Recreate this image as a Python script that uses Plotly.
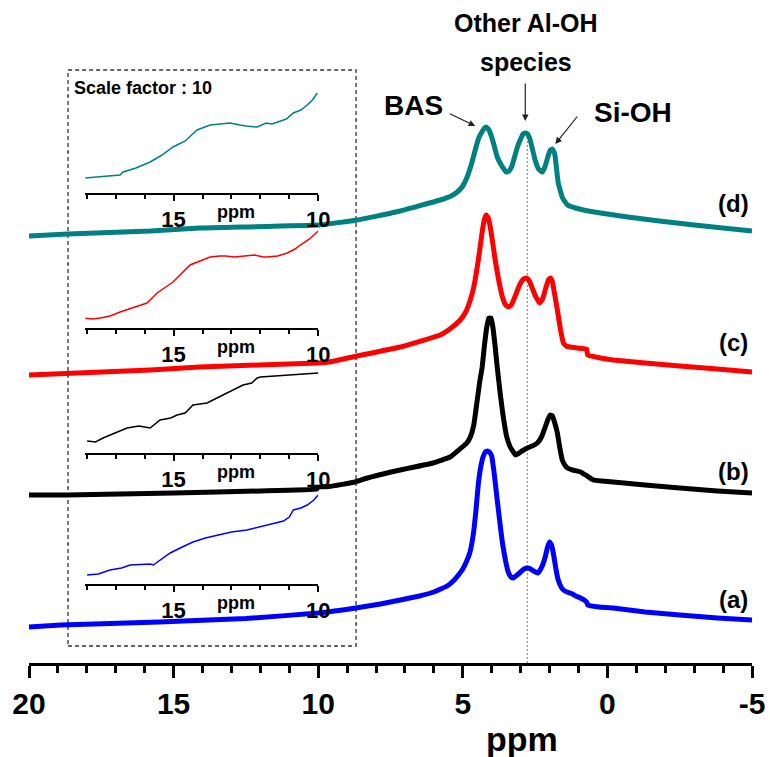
import plotly.graph_objects as go

# ---------------- data (ppm, intensity a.u.) ----------------
blue_ppm = [20.0, 18.9, 15.5, 12.5, 10.0, 8.7, 7.85, 7.16, 6.5, 6.0, 5.54, 5.33, 5.15, 5.0, 4.88, 4.76, 4.64,
            4.55, 4.46, 4.38, 4.3, 4.22, 4.15, 4.08, 4.0, 3.92, 3.81, 3.72, 3.63, 3.52, 3.43, 3.33, 3.25, 3.12,
            3.0, 2.88, 2.77, 2.65, 2.55, 2.4, 2.27, 2.15, 2.07, 2.0, 1.93, 1.87, 1.78, 1.7, 1.6, 1.52, 1.4,
            1.3, 1.2, 1.1, 0.93, 0.72, 0.68, 0.3, -0.2, -1.3, -2.5, -3.8, -5.0]
blue_int = [0, 2, 5, 8.5, 14, 19, 23, 27, 31, 35, 41, 46, 52, 58, 65, 74, 92,
            115, 144, 160, 170, 175, 176, 175, 171, 155, 127, 105, 84, 66, 55, 50, 49, 52,
            55, 58, 59, 58, 56, 54, 60, 70, 80, 85, 82, 74, 58, 47, 40, 37, 35,
            34, 33, 31, 29, 25, 22, 20, 19, 15, 12, 9, 7]

black_ppm = [20.0, 18.7, 15.0, 12.0, 10.05, 10.0, 9.62, 8.72, 8.3, 7.16, 6.03, 5.44, 5.1, 4.86, 4.74, 4.62,
             4.5, 4.42, 4.33, 4.25, 4.17, 4.1, 4.03, 3.96, 3.88, 3.81, 3.7, 3.6, 3.48, 3.36, 3.25, 3.18,
             3.05, 2.95, 2.77, 2.6, 2.42, 2.28, 2.15, 2.05, 1.98, 1.9, 1.82, 1.73, 1.65, 1.56, 1.45, 1.38,
             1.2, 0.93, 0.7, 0.48, 0.2, -0.2, -1.3, -2.5, -3.8, -5.0]
black_int = [0, 0, 2, 4, 6, 8, 8.5, 13, 17, 25, 32, 38, 46, 52, 58, 70,
             95, 112, 128, 150, 168, 177, 177, 168, 148, 128, 100, 78, 58, 48, 43, 40,
             42, 44, 47, 49, 52, 58, 68, 76, 80, 79, 72, 62, 48, 35, 29, 27,
             25, 23, 19, 15, 14, 13, 10, 7, 4, 2]

red_ppm = [20.0, 15.8, 14.1, 10.0, 9.62, 8.65, 7.16, 5.78, 5.4, 5.09, 4.9, 4.74, 4.62, 4.5, 4.4, 4.32,
           4.25, 4.19, 4.12, 4.05, 3.97, 3.88, 3.76, 3.63, 3.52, 3.43, 3.32, 3.2, 3.08, 3.0, 2.9, 2.8,
           2.7, 2.6, 2.47, 2.35, 2.24, 2.12, 2.04, 1.97, 1.9, 1.82, 1.73, 1.62, 1.52, 1.42, 1.3, 1.04,
           0.72, 0.68, 0.24, -0.2, -1.3, -2.5, -3.8, -5.0]
red_int = [0, 5, 8, 12, 13, 19, 28, 40, 47, 55, 63, 75, 88, 108, 128, 145,
           156, 160, 157, 148, 133, 115, 95, 78, 70, 68, 70, 78, 87, 92, 96, 97,
           94, 87, 78, 72, 76, 88, 95, 97, 93, 80, 65, 45, 32, 29, 28, 27,
           26, 20, 17, 15, 12, 9, 6, 3]

teal_ppm = [20.0, 18.65, 15.8, 14.1, 10.0, 8.65, 7.16, 5.78, 5.4, 5.19, 5.0, 4.85, 4.7, 4.57, 4.45, 4.32,
            4.25, 4.19, 4.12, 4.05, 3.93, 3.81, 3.65, 3.5, 3.4, 3.3, 3.2, 3.1, 3.0, 2.92, 2.84, 2.76,
            2.68, 2.6, 2.5, 2.38, 2.25, 2.15, 2.05, 1.97, 1.9, 1.82, 1.7, 1.55, 1.38, 1.1, 0.83, 0.24,
            -0.7, -1.8, -3.0, -5.0]
teal_int = [0, 2, 5, 8, 11, 16, 25, 36, 40, 44, 50, 59, 72, 86, 98, 105,
            108, 109, 107, 103, 92, 79, 70, 64, 65, 70, 80, 90, 97, 102, 103, 102,
            97, 88, 76, 67, 64, 70, 80, 86, 87, 82, 53, 38, 31, 28, 26, 23,
            19, 15, 11, 5]

# vertical stacking offsets of the four spectra
offsets = {"a": 36, "b": 168, "c": 288, "d": 427}

# insets (scale factor 10), 18-10 ppm
teal_inset_ppm = [18.06, 17.7, 17.5, 16.85, 16.75, 16.3, 15.81, 15.4, 15.02, 14.6, 14.19, 13.74, 13.4,
                  13.05, 12.7, 12.5, 12.11, 11.8, 11.6, 11.42, 11.1, 10.86, 10.6, 10.38, 10.2, 10.03]
teal_inset_int = [15, 16, 16, 18, 21, 25, 31, 38, 46, 52, 63, 68, 69, 70, 68, 67, 66, 70, 69, 71, 74,
                  80, 83, 88, 93, 100]

red_inset_ppm = [18.13, 17.8, 17.54, 17.2, 16.85, 16.4, 15.92, 15.57, 15.02, 14.43, 13.74, 13.4, 13.2,
                 12.9, 12.6, 12.2, 11.9, 11.76, 11.4, 11.07, 10.8, 10.62, 10.3, 10.0]
red_inset_int = [10, 9, 10, 12, 16, 20, 25, 35, 46, 63, 71, 72, 72, 71, 72, 73, 71, 71, 72, 75, 79,
                 83, 89, 97]

black_inset_ppm = [17.99, 17.7, 17.44, 17.0, 16.61, 16.2, 15.92, 15.81, 15.47, 15.1, 14.88, 14.6, 14.33,
                   13.84, 13.5, 13.15, 12.9, 12.6, 12.3, 12.11, 12.0, 11.0, 10.0]
black_inset_int = [12, 11, 15, 20, 25, 27, 26, 25, 33, 35, 38, 40, 48, 50, 55, 60, 63, 68, 70, 75, 76,
                   78, 80]

blue_inset_ppm = [17.99, 17.6, 17.2, 16.8, 16.5, 16.1, 15.81, 15.7, 15.4, 15.12, 14.7, 14.33, 13.9,
                  13.4, 13.0, 12.46, 11.9, 11.56, 11.2, 11.0, 10.86, 10.6, 10.38, 10.15, 10.0]
blue_inset_int = [9, 10, 14, 16, 19, 20, 20, 19, 25, 31, 37, 42, 46, 49, 52, 54, 58, 61, 63, 67, 74,
                  76, 79, 84, 89]

labels = ["(a)", "(b)", "(c)", "(d)"]
main_ticks = [20, 15, 10, 5, 0, -5]
inset_ticks = [15, 10]

# ---------------- layout constants ----------------
W, H = 770, 757
ML, MR, MT, MB = 29, 18, 0, 94
PH = H - MT - MB  # plot height in px (y units = px above axis)
FONT = "Liberation Sans, Arial, sans-serif"
teal = "#008080"
colors = {"a": "#0000FF", "b": "#000000", "c": "#FF0000", "d": teal}

main = {"a": (blue_ppm, blue_int), "b": (black_ppm, black_int),
        "c": (red_ppm, red_int), "d": (teal_ppm, teal_int)}
insets = {"a": (blue_inset_ppm, blue_inset_int), "b": (black_inset_ppm, black_inset_int),
          "c": (red_inset_ppm, red_inset_int), "d": (teal_inset_ppm, teal_inset_int)}
inset_axis_px = {"d": 193, "c": 328, "b": 453, "a": 584}  # inset baseline (px from top)
INSET_H = 110

fig = go.Figure()

for k in ["a", "b", "c", "d"]:
    xs, ys = main[k]
    fig.add_trace(go.Scatter(x=xs, y=[v + offsets[k] for v in ys], mode="lines",
                             line=dict(color=colors[k], width=5, shape="spline", smoothing=0.3),
                             xaxis="x", yaxis="y", hoverinfo="skip"))

layout_axes = {}
for i, k in enumerate(["d", "c", "b", "a"]):
    n = i + 2
    xs, ys = insets[k]
    fig.add_trace(go.Scatter(x=xs, y=ys, mode="lines",
                             line=dict(color=colors[k], width=1.5),
                             xaxis=f"x{n}", yaxis=f"y{n}", hoverinfo="skip"))
    bottom = (H - MB - inset_axis_px[k]) / PH
    layout_axes[f"xaxis{n}"] = dict(
        domain=[(20 - 18.05) / 25, (20 - 10) / 25], range=[18.05, 10], anchor=f"y{n}",
        showline=True, linewidth=2, linecolor="black", showgrid=False, zeroline=False,
        ticks="outside", ticklen=6, tickwidth=2, tickcolor="black",
        tickmode="array", tickvals=inset_ticks,
        tickfont=dict(family=FONT, size=22, color="black", weight="bold"),
        minor=dict(ticks="outside", ticklen=4, tickwidth=2, tickcolor="black",
                   tickmode="linear", tick0=0, dtick=1),
        fixedrange=True)
    layout_axes[f"yaxis{n}"] = dict(domain=[bottom, bottom + INSET_H / PH], range=[0, INSET_H],
                                    anchor=f"x{n}", visible=False, fixedrange=True)

annotations = []
# inset "ppm" labels
for i in range(4):
    n = i + 2
    annotations.append(dict(x=12.85, y=0, xref=f"x{n}", yref=f"y{n}", text="ppm", showarrow=False,
                            yanchor="middle", yshift=-19,
                            font=dict(family=FONT, size=18, color="black", weight="bold")))
# spectrum labels
label_px = [599, 471, 342, 203]
for lab, py in zip(labels, label_px):
    annotations.append(dict(x=-4.35, y=PH - (py - MT), xref="x", yref="y", text=lab, showarrow=False,
                            font=dict(family=FONT, size=24, color="black", weight="bold")))
# peak labels
annotations += [
    dict(x=6.71, y=PH - 105, xref="x", yref="y", text="BAS", showarrow=False,
         font=dict(family=FONT, size=28, color="black", weight="bold")),
    dict(x=-0.87, y=PH - 112, xref="x", yref="y", text="Si-OH", showarrow=False,
         font=dict(family=FONT, size=28, color="black", weight="bold")),
    dict(x=2.80, y=PH - 23, xref="x", yref="y", text="Other Al-OH", showarrow=False,
         font=dict(family=FONT, size=25, color="black", weight="bold")),
    dict(x=2.80, y=PH - 62, xref="x", yref="y", text="species", showarrow=False,
         font=dict(family=FONT, size=25, color="black", weight="bold")),
    dict(x=2.94, y=0, xref="x", yref="paper", text="ppm", showarrow=False, yanchor="middle",
         yshift=-76, font=dict(family=FONT, size=34, color="black", weight="bold")),
    dict(x=18.5, y=PH - 88, xref="x", yref="y", text="Scale factor : 10", showarrow=False,
         xanchor="left", font=dict(family=FONT, size=18, color="black", weight="bold")),
]
# arrows (head, tail)
arrows = [((4.57, PH - 126), (5.50, PH - 113)),
          ((2.84, PH - 121), (2.84, PH - 82)),
          ((1.80, PH - 144), (1.00, PH - 115))]
for (hx, hy), (tx, ty) in arrows:
    annotations.append(dict(x=hx, y=hy, ax=tx, ay=ty, xref="x", yref="y", axref="x", ayref="y",
                            text="", showarrow=True, arrowhead=2, arrowsize=1.1, arrowwidth=1.2,
                            arrowcolor="#222222"))

shapes = [
    dict(type="rect", xref="x", yref="y", x0=18.65, x1=8.69, y0=PH - 646, y1=PH - 70,
         line=dict(color="#333333", width=1.3, dash="4px,3px"), layer="below"),
    dict(type="line", xref="x", yref="y", x0=2.77, x1=2.77, y0=0, y1=PH - 133,
         line=dict(color="#777777", width=1, dash="2px,2px"), layer="below"),
]

fig.update_layout(
    width=W, height=H, autosize=False,
    margin=dict(l=ML, r=MR, t=MT, b=MB, pad=0),
    paper_bgcolor="white", plot_bgcolor="rgba(0,0,0,0)", showlegend=False,
    xaxis=dict(domain=[0, 1], range=[20, -5], anchor="y", showline=True, linewidth=3, linecolor="black",
               showgrid=False, zeroline=False, ticks="outside", ticklen=12, tickwidth=3, tickcolor="black",
               tickmode="array", tickvals=main_ticks, ticktext=[str(t) for t in main_ticks],
               tickfont=dict(family=FONT, size=30, color="black", weight="bold"),
               minor=dict(ticks="outside", ticklen=7, tickwidth=3, tickcolor="black",
                          tickmode="linear", tick0=0, dtick=1),
               fixedrange=True),
    yaxis=dict(domain=[0, 1], range=[0, PH], visible=False, fixedrange=True),
    annotations=annotations, shapes=shapes,
    **layout_axes,
)

fig.write_html("out.html")
